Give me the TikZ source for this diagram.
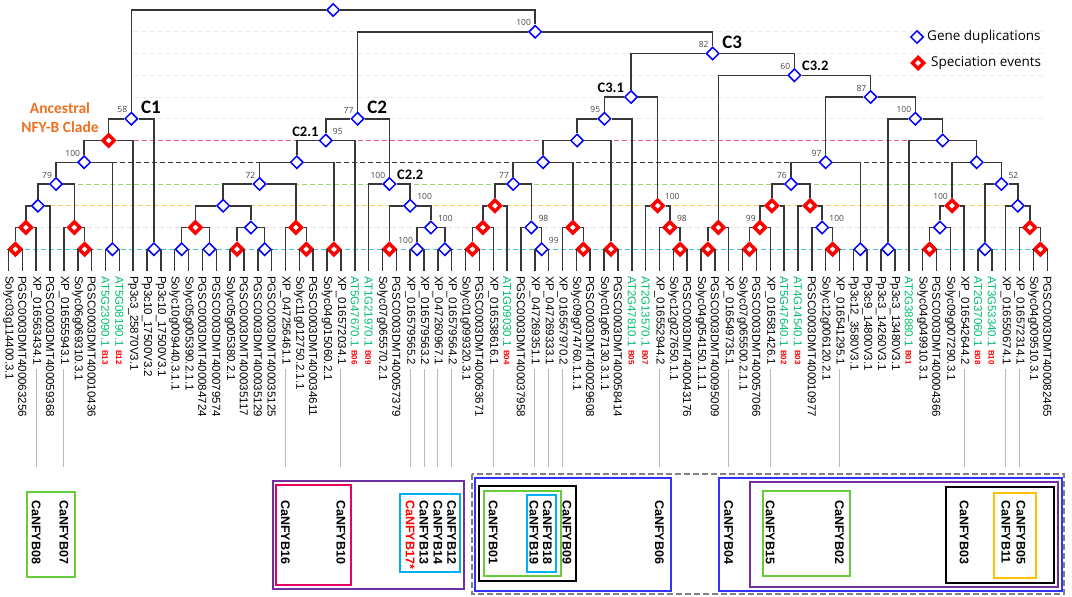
\documentclass[tikz,border=0pt]{standalone}
\usepackage{fontspec}
\setmainfont{Liberation Sans}
\newfontfamily\carlito{Carlito}
\newfontfamily\osans{Open Sans}
\usetikzlibrary{shapes.geometric}
\definecolor{treegray}{RGB}{55,55,55}
\definecolor{atgreen}{RGB}{0,190,110}
\definecolor{bsgray}{RGB}{70,70,70}
\definecolor{conngray}{RGB}{185,185,185}
\definecolor{ancorange}{RGB}{240,112,32}
\definecolor{lpink}{RGB}{235,90,140}
\definecolor{lgreen}{RGB}{150,215,110}
\definecolor{lyellow}{RGB}{250,210,90}
\definecolor{lcyan}{RGB}{70,195,230}
\definecolor{lfaint}{RGB}{236,236,236}
\definecolor{lgrey}{RGB}{226,226,226}
\definecolor{bxgreen}{RGB}{102,204,60}
\definecolor{bxpurple}{RGB}{112,48,160}
\definecolor{bxpink}{RGB}{232,0,100}
\definecolor{bxcyan}{RGB}{0,176,240}
\definecolor{bxblue}{RGB}{51,51,255}
\definecolor{bxyellow}{RGB}{255,192,0}
\definecolor{bxgray}{RGB}{128,128,128}
\newcommand{\atg}[2]{\textcolor{atgreen}{#1}\ \raisebox{0.8pt}{\bfseries\fontsize{8}{8}\selectfont\color{red}#2}}
\begin{document}
\begin{tikzpicture}[x=1pt,y=-1pt,
	br/.style={draw=treegray,line width=1.5pt},
	dup/.style={diamond,draw=blue,fill=white,line width=1.5pt,inner sep=0pt,minimum size=13pt},
	spec/.style={diamond,draw=red,fill=white,line width=3.5pt,inner sep=0pt,minimum size=12.5pt},
	lvl/.style={dash pattern=on 5pt off 3pt,line width=1pt},
	leaf/.style={rotate=-90,anchor=west,inner sep=0pt,font=\fontsize{11.5}{12}\selectfont},
	ca/.style={rotate=-90,anchor=west,inner sep=0pt,font=\bfseries\fontsize{12.5}{13}\selectfont},
	conn/.style={draw=conngray,line width=0.9pt},
	bsl/.style={anchor=south east,inner sep=0pt,xshift=-4pt,yshift=5.5pt,text=bsgray,font=\osans\fontsize{8.5}{9}\selectfont},
	bsr/.style={anchor=south west,inner sep=0pt,xshift=7pt,yshift=5.5pt,text=bsgray,font=\osans\fontsize{8.5}{9}\selectfont},
	clade/.style={anchor=south west,inner sep=0pt,xshift=9.5pt,yshift=5pt,font=\carlito\bfseries\fontsize{19}{19}\selectfont},
	subl/.style={anchor=south east,inner sep=0pt,xshift=-7pt,yshift=4pt,font=\carlito\bfseries\fontsize{14.5}{15}\selectfont},
	subr/.style={anchor=south west,inner sep=0pt,xshift=7.5pt,yshift=4pt,font=\carlito\bfseries\fontsize{14.5}{15}\selectfont},
	bx/.style={line width=2pt}]
	\useasboundingbox (0,0) rectangle (1072,597);
	% Level lines
	\draw [lvl,lfaint] (133,31.75) -- (1045,31.75);
	\draw [lvl,lfaint] (133,53.5) -- (1045,53.5);
	\draw [lvl,lfaint] (133,75.25) -- (1045,75.25);
	\draw [lvl,lfaint] (133,97) -- (1045,97);
	\draw [lvl,lfaint] (133,118.75) -- (1045,118.75);
	\draw [lvl,lpink] (86,140.5) -- (967,140.5);
	\draw [lvl,treegray] (56,162.25) -- (1001,162.25);
	\draw [lvl,lgreen] (38,184) -- (1001,184);
	\draw [lvl,lyellow] (26,205.75) -- (1018,205.75);
	\draw [lvl,lgrey] (15,227.5) -- (1030,227.5);
	\draw [lvl,lcyan] (8.5,249.25) -- (1047,249.25);
	% Leaves
	\foreach \lab [count=\i from 0] in {Solyc03g114400.3.1, PGSC0003DMT400063256, XP\_016563434.1, PGSC0003DMT400059368, XP\_016555943.1, Solyc06g069310.3.1, PGSC0003DMT400010436, {\atg{AT5G23090.1}{B13}}, {\atg{AT5G08190.1}{B12}}, Pp3c3\_25870V3.1, Pp3c10\_17500V3.2, Pp3c10\_17500V3.1,
		Solyc10g009440.3.1.1, Solyc05g005390.2.1.1, PGSC0003DMT400084724, PGSC0003DMT400079574, Solyc05g005380.2.1, PGSC0003DMT400035117, PGSC0003DMT400035129, PGSC0003DMT400035125, XP\_047256461.1, Solyc11g012750.2.1.1, PGSC0003DMT400034611, Solyc04g015060.2.1, XP\_016572034.1, {\atg{AT5G47670.1}{B06}},
		{\atg{AT1G21970.1}{B09}}, Solyc07g065570.2.1, PGSC0003DMT400057379, XP\_016579565.2, XP\_016579563.2, XP\_047260967.1, XP\_016579564.2,
		Solyc01g099320.3.1, PGSC0003DMT400063671, XP\_016538616.1, {\atg{AT1G09030.1}{B04}}, PGSC0003DMT400037958, XP\_047269351.1, XP\_047269333.1, XP\_016567970.2, Solyc09g074760.1.1.1, PGSC0003DMT400029608, Solyc01g067130.3.1.1, PGSC0003DMT400058414, {\atg{AT2G47810.1}{B05}}, {\atg{AT2G13570.1}{B07}}, XP\_016552944.2, Solyc12g027650.1.1, PGSC0003DMT400043176,
		Solyc04g054150.1.1.1, PGSC0003DMT400095009, XP\_016549735.1, Solyc07g065500.2.1.1, PGSC0003DMT400057066, XP\_016581426.1, {\atg{AT5G47640.1}{B02}}, {\atg{AT4G14540.1}{B03}}, PGSC0003DMT400010977, Solyc12g006120.2.1, XP\_016541295.1, Pp3c12\_3580V3.1, Pp3c9\_14800V3.1, Pp3c3\_14260V3.1, Pp3c3\_13480V3.1, {\atg{AT2G38880.1}{B01}}, Solyc04g049910.3.1, PGSC0003DMT400004366, Solyc09g007290.3.1, XP\_016542644.2, {\atg{AT2G37060.1}{B08}}, {\atg{AT3G53340.1}{B10}}, XP\_016550674.1, XP\_016572314.1, Solyc04g009510.3.1, PGSC0003DMT400082465} {
		\pgfmathsetmacro\xx{8.5+13.85*\i}
		\coordinate (l\i) at (\xx,271);
		\node [leaf] (t\i) at (\xx,276) {\lab};
	}
	% Gene duplications and speciation events
	\node [dup] (root) at (333.23,10) {};
	\node [dup] (n100) at (535.15,31.75) {};
	% C1
	\node [dup] (c1) at (131.31,118.75) {};
	\node [spec] (r6a) at (108.7,140.5) {};
	\node [dup] (b7a) at (84.24,162.25) {};
	\node [dup] (b8a) at (56.11,184) {};
	\node [dup] (b9a) at (37.93,205.75) {};
	\node [spec] (r10a) at (25.81,227.5) {};
	\node [spec] (r11a) at (15.43,249.25) {};
	\node [spec] (r10b) at (74.29,227.5) {};
	\node [spec] (r11b) at (84.68,249.25) {};
	\node [dup] (b11a) at (112.38,249.25) {};
	\node [dup] (b11b) at (153.93,249.25) {};
	% C2
	\node [dup] (c2) at (357.56,118.75) {};
	\node [dup] (c21) at (325.75,140.5) {};
	\node [dup] (b7b) at (296.75,162.25) {};
	\node [dup] (b8b) at (259.53,184) {};
	\node [dup] (b9b) at (223.18,205.75) {};
	\node [spec] (r10c) at (195.48,227.5) {};
	\node [dup] (b11c) at (181.63,249.25) {};
	\node [dup] (b11d) at (209.33,249.25) {};
	\node [dup] (b10a) at (250.88,227.5) {};
	\node [spec] (r11c) at (237.03,249.25) {};
	\node [dup] (b11e) at (264.73,249.25) {};
	\node [spec] (r10d) at (295.89,227.5) {};
	\node [spec] (r11d) at (306.28,249.25) {};
	\node [spec] (r11e) at (333.98,249.25) {};
	\node [dup] (c22) at (389.38,184) {};
	\node [dup] (b9c) at (410.15,205.75) {};
	\node [spec] (r11f) at (389.38,249.25) {};
	\node [dup] (b10b) at (430.93,227.5) {};
	\node [dup] (b11f) at (417.08,249.25) {};
	\node [dup] (b11g) at (444.78,249.25) {};
	% C3
	\node [dup] (c3) at (712.73,53.5) {};
	\node [dup] (c31) at (631.05,97) {};
	\node [dup] (b5a) at (604.38,118.75) {};
	\node [dup] (b6a) at (577.0,140.5) {};
	\node [dup] (b7c) at (543.03,162.25) {};
	\node [dup] (b8c) at (513.16,184) {};
	\node [spec] (r9a) at (494.98,205.75) {};
	\node [spec] (r10e) at (482.86,227.5) {};
	\node [spec] (r11g) at (472.48,249.25) {};
	\node [dup] (b10c) at (531.34,227.5) {};
	\node [dup] (b11h) at (541.73,249.25) {};
	\node [spec] (r10f) at (572.89,227.5) {};
	\node [spec] (r11h) at (583.28,249.25) {};
	\node [spec] (r11i) at (610.98,249.25) {};
	\node [spec] (r9b) at (657.72,205.75) {};
	\node [spec] (r10g) at (669.84,227.5) {};
	\node [spec] (r11j) at (680.23,249.25) {};
	\node [dup] (c32) at (794.4,75.25) {};
	\node [spec] (r10h) at (718.31,227.5) {};
	\node [spec] (r11k) at (707.93,249.25) {};
	\node [dup] (b4a) at (870.5,97) {};
	\node [dup] (b7d) at (825.65,162.25) {};
	\node [dup] (b8d) at (791.03,184) {};
	\node [spec] (r9c) at (771.98,205.75) {};
	\node [spec] (r10i) at (759.86,227.5) {};
	\node [spec] (r11l) at (749.48,249.25) {};
	\node [spec] (r9d) at (810.07,205.75) {};
	\node [dup] (b10d) at (822.19,227.5) {};
	\node [spec] (r11m) at (832.58,249.25) {};
	\node [dup] (b11i) at (860.28,249.25) {};
	\node [dup] (b5b) at (915.35,118.75) {};
	\node [dup] (b11j) at (887.98,249.25) {};
	\node [dup] (b6b) at (942.73,140.5) {};
	\node [dup] (b7e) at (976.7,162.25) {};
	\node [spec] (r9e) at (952.03,205.75) {};
	\node [dup] (b10e) at (939.91,227.5) {};
	\node [spec] (r11n) at (929.53,249.25) {};
	\node [dup] (b8e) at (1001.37,184) {};
	\node [dup] (b11k) at (984.93,249.25) {};
	\node [dup] (b9d) at (1017.82,205.75) {};
	\node [spec] (r10j) at (1029.94,227.5) {};
	\node [spec] (r11o) at (1040.33,249.25) {};
	% Branches
	\draw [br] (root) -| (c1) (root) -| (n100);
	\draw [br] (n100) -| (c2) (n100) -| (c3);
	\draw [br] (c1) -| (r6a) (c1) -| (b11b);
	\draw [br] (r6a) -| (b7a) (r6a) -| (l9);
	\draw [br] (b7a) -| (b8a) (b7a) -| (b11a);
	\draw [br] (b8a) -| (b9a) (b8a) -| (r10b);
	\draw [br] (b9a) -| (r10a) (b9a) -| (l3);
	\draw [br] (r10a) -| (r11a) (r10a) -| (l2);
	\draw [br] (r11a) -| (l0) (r11a) -| (l1);
	\draw [br] (r10b) -| (l4) (r10b) -| (r11b);
	\draw [br] (r11b) -| (l5) (r11b) -| (l6);
	\draw [br] (b11a) -| (l7) (b11a) -| (l8);
	\draw [br] (b11b) -| (l10) (b11b) -| (l11);
	\draw [br] (c2) -| (c21) (c2) -| (c22);
	\draw [br] (c21) -| (b7b) (c21) -| (l25);
	\draw [br] (b7b) -| (b8b) (b7b) -| (r11e);
	\draw [br] (b8b) -| (b9b) (b8b) -| (r10d);
	\draw [br] (b9b) -| (r10c) (b9b) -| (b10a);
	\draw [br] (r10c) -| (b11c) (r10c) -| (b11d);
	\draw [br] (b11c) -| (l12) (b11c) -| (l13);
	\draw [br] (b11d) -| (l14) (b11d) -| (l15);
	\draw [br] (b10a) -| (r11c) (b10a) -| (b11e);
	\draw [br] (r11c) -| (l16) (r11c) -| (l17);
	\draw [br] (b11e) -| (l18) (b11e) -| (l19);
	\draw [br] (r10d) -| (l20) (r10d) -| (r11d);
	\draw [br] (r11d) -| (l21) (r11d) -| (l22);
	\draw [br] (r11e) -| (l23) (r11e) -| (l24);
	\draw [br] (c22) -| (l26) (c22) -| (b9c);
	\draw [br] (b9c) -| (r11f) (b9c) -| (b10b);
	\draw [br] (r11f) -| (l27) (r11f) -| (l28);
	\draw [br] (b10b) -| (b11f) (b10b) -| (b11g);
	\draw [br] (b11f) -| (l29) (b11f) -| (l30);
	\draw [br] (b11g) -| (l31) (b11g) -| (l32);
	\draw [br] (c3) -| (c31) (c3) -| (c32);
	\draw [br] (c31) -| (b5a) (c31) -| (r9b);
	\draw [br] (b5a) -| (b6a) (b5a) -| (l45);
	\draw [br] (b6a) -| (b7c) (b6a) -| (r11i);
	\draw [br] (b7c) -| (b8c) (b7c) -| (r10f);
	\draw [br] (b8c) -| (r9a) (b8c) -| (b10c);
	\draw [br] (r9a) -| (r10e) (r9a) -| (l36);
	\draw [br] (r10e) -| (r11g) (r10e) -| (l35);
	\draw [br] (r11g) -| (l33) (r11g) -| (l34);
	\draw [br] (b10c) -| (l37) (b10c) -| (b11h);
	\draw [br] (b11h) -| (l38) (b11h) -| (l39);
	\draw [br] (r10f) -| (l40) (r10f) -| (r11h);
	\draw [br] (r11h) -| (l41) (r11h) -| (l42);
	\draw [br] (r11i) -| (l43) (r11i) -| (l44);
	\draw [br] (r9b) -| (l46) (r9b) -| (r10g);
	\draw [br] (r10g) -| (l47) (r10g) -| (r11j);
	\draw [br] (r11j) -| (l48) (r11j) -| (l49);
	\draw [br] (c32) -| (r10h) (c32) -| (b4a);
	\draw [br] (r10h) -| (r11k) (r10h) -| (l52);
	\draw [br] (r11k) -| (l50) (r11k) -| (l51);
	\draw [br] (b4a) -| (b7d) (b4a) -| (b5b);
	\draw [br] (b7d) -| (b8d) (b7d) -| (b11i);
	\draw [br] (b8d) -| (r9c) (b8d) -| (r9d);
	\draw [br] (r9c) -| (r10i) (r9c) -| (l56);
	\draw [br] (r10i) -| (r11l) (r10i) -| (l55);
	\draw [br] (r11l) -| (l53) (r11l) -| (l54);
	\draw [br] (r9d) -| (l57) (r9d) -| (b10d);
	\draw [br] (b10d) -| (l58) (b10d) -| (r11m);
	\draw [br] (r11m) -| (l59) (r11m) -| (l60);
	\draw [br] (b11i) -| (l61) (b11i) -| (l62);
	\draw [br] (b5b) -| (b11j) (b5b) -| (b6b);
	\draw [br] (b11j) -| (l63) (b11j) -| (l64);
	\draw [br] (b6b) -| (l65) (b6b) -| (b7e);
	\draw [br] (b7e) -| (r9e) (b7e) -| (b8e);
	\draw [br] (r9e) -| (b10e) (r9e) -| (l69);
	\draw [br] (b10e) -| (r11n) (b10e) -| (l68);
	\draw [br] (r11n) -| (l66) (r11n) -| (l67);
	\draw [br] (b8e) -| (b11k) (b8e) -| (b9d);
	\draw [br] (b11k) -| (l70) (b11k) -| (l71);
	\draw [br] (b9d) -| (l72) (b9d) -| (r10j);
	\draw [br] (r10j) -| (l73) (r10j) -| (r11o);
	\draw [br] (r11o) -| (l74) (r11o) -| (l75);
	% Support values
	\node [bsl] (s1) at (c1) {58};
	\node [bsl] (s2) at (b7a) {100};
	\node [bsl] (s3) at (b8a) {79};
	\node [bsl] (s4) at (c2) {77};
	\node [bsr] (s5) at (c21) {95};
	\node [bsl] (s6) at (b8b) {72};
	\node [bsl] (s7) at (c22) {100};
	\node [bsr] (s8) at (b9c) {100};
	\node [bsr] (s9) at (b10b) {100};
	\node [bsl] (s10) at (b11f) {100};
	\node [bsl] (s11) at (n100) {100};
	\node [bsl] (s12) at (c3) {82};
	\node [bsl] (s13) at (b5a) {95};
	\node [bsl] (s14) at (b8c) {77};
	\node [bsr] (s15) at (b10c) {98};
	\node [bsr] (s16) at (b11h) {99};
	\node [bsr] (s17) at (r9b) {100};
	\node [bsr] (s18) at (r10g) {98};
	\node [bsl] (s19) at (c32) {60};
	\node [bsl] (s20) at (b4a) {87};
	\node [bsl] (s21) at (b5b) {100};
	\node [bsl] (s22) at (b7d) {97};
	\node [bsl] (s23) at (b8d) {76};
	\node [bsl] (s24) at (r10i) {99};
	\node [bsr] (s25) at (b10d) {100};
	\node [bsl] (s26) at (r9e) {100};
	\node [bsr] (s27) at (b8e) {52};
	% Clades
	\node [clade] (lc1) at (c1) {C1};
	\node [clade] (lc2) at (c2) {C2};
	\node [clade] (lc3) at (c3) {C3};
	\node [subl] (lc21) at (c21) {C2.1};
	\node [subr] (lc22) at (c22) {C2.2};
	\node [subl] (lc31) at (c31) {C3.1};
	\node [subr] (lc32) at (c32) {C3.2};
	\node [align=center,inner sep=0pt,text=ancorange,font=\carlito\bfseries\fontsize{15.5}{18.5}\selectfont] (anc) at (60,117.5) {Ancestral\\NFY-B Clade};
	% Legend
	\node [dup] (kdup) at (917,37) {};
	\node [anchor=west,inner sep=0pt,font=\osans\fontsize{13.5}{14}\selectfont] (kduptxt) at (927,37) {Gene duplications};
	\node [spec] (kspec) at (918,63) {};
	\node [anchor=west,inner sep=0pt,font=\osans\fontsize{13.5}{14}\selectfont] (kspectxt) at (931,63) {Speciation events};
	% CaNFYB groups
	\coordinate (cb) at (0,467);
	\foreach \i in {2,4,20,24,29,30,31,32,35,38,39,40,47,52,55,60,69,72,73}
		\draw [conn] ([yshift=-4pt]t\i.east) -- (t\i.east |- cb);
	\node [ca] (ca08) at (36.2,500) {CaNFYB08};
	\node [ca] (ca07) at (63.9,500) {CaNFYB07};
	\node [ca] (ca16) at (285.5,500) {CaNFYB16};
	\node [ca] (ca10) at (340.9,500) {CaNFYB10};
	\node [ca,text=red] (ca17) at (410.15,500) {CaNFYB17*};
	\node [ca] (ca13) at (424,500) {CaNFYB13};
	\node [ca] (ca14) at (437.85,500) {CaNFYB14};
	\node [ca] (ca12) at (451.7,500) {CaNFYB12};
	\node [ca] (ca01) at (493.25,500) {CaNFYB01};
	\node [ca] (ca19) at (534,500) {CaNFYB19};
	\node [ca] (ca18) at (547.5,500) {CaNFYB18};
	\node [ca] (ca09) at (567,500) {CaNFYB09};
	\node [ca] (ca06) at (659.45,500) {CaNFYB06};
	\node [ca] (ca04) at (728.7,500) {CaNFYB04};
	\node [ca] (ca15) at (770.25,500) {CaNFYB15};
	\node [ca] (ca02) at (839.5,500) {CaNFYB02};
	\node [ca] (ca03) at (964.15,500) {CaNFYB03};
	\node [ca] (ca11) at (1006,500) {CaNFYB11};
	\node [ca] (ca05) at (1021,500) {CaNFYB05};
	\draw [bx,bxgreen] (26.5,492) rectangle (75,577);
	\draw [bx,bxpurple] (272.5,481) rectangle (464,589);
	\draw [bx,bxpink] (276,484.5) rectangle (351,584.5);
	\draw [bx,bxcyan] (400,494) rectangle (460,572);
	\draw [bx,bxgray,line width=2.5pt,dash pattern=on 6pt off 3pt] (472,474) rectangle (1064,594);
	\draw [bx,bxblue] (474.5,478) rectangle (671,591);
	\draw [bx,black] (478.5,486) rectangle (576,581);
	\draw [bx,bxgreen] (483.5,491) rectangle (560.5,576);
	\draw [bx,bxcyan] (527,494.5) rectangle (555.5,572);
	\draw [bx,bxblue] (719,478) rectangle (1062,591);
	\draw [bx,bxpurple] (750,482) rectangle (1058,587);
	\draw [bx,bxgreen] (763,491) rectangle (850,576);
	\draw [bx,black] (946,487) rectangle (1054,583);
	\draw [bx,bxyellow] (994,493) rectangle (1036,578);
\end{tikzpicture}
\end{document}
